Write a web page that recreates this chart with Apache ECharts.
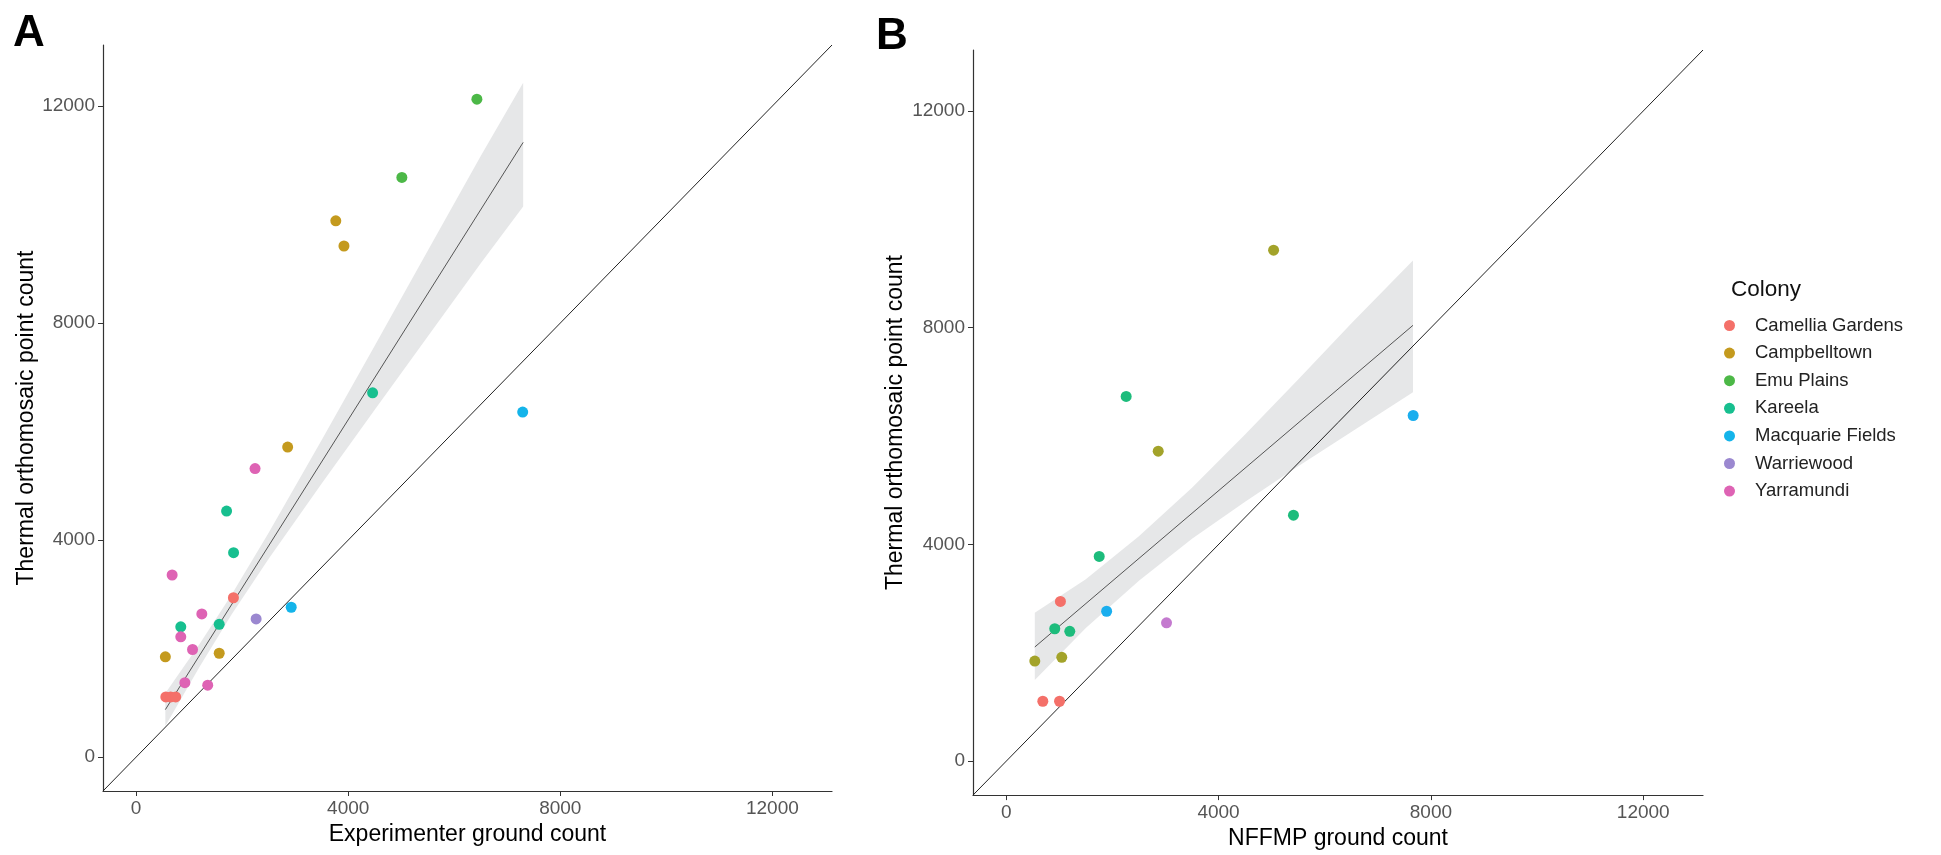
<!DOCTYPE html>
<html lang="en">
<head>
<meta charset="UTF-8">
<title>Thermal orthomosaic point count vs ground counts</title>
<script src="https://cdn.jsdelivr.net/npm/echarts@6.0.0/dist/echarts.min.js"></script>
</head>
<body style="margin: 0; background-color: #ffffff;">
<div id="chart" style="width: 1941px; height: 855px;"></div>

<script>
    // colonies and their colours (panel A uses 7 hues, panel B only has 5 colonies)
    const colonies = ['Camellia Gardens', 'Campbelltown', 'Emu Plains', 'Kareela', 'Macquarie Fields', 'Warriewood', 'Yarramundi'];
    const coloursA = ['#F47069', '#C49A1E', '#4CB847', '#17BF8F', '#14B4EA', '#9B88D0', '#DE63B4'];
    const coloursB = {
        'Camellia Gardens': '#F47069',
        'Campbelltown': '#A3A32A',
        'Kareela': '#1DBC7C',
        'Macquarie Fields': '#1AAEEE',
        'Warriewood': '#C47ACF'
    };

    // panel A: [experimenter ground count, thermal point count]
    const camelliaA = [[1835, 2937], [560, 1108], [652, 1108], [746, 1108]];
    const campbelltownA = [[3766, 9885], [3920, 9420], [2858, 5714], [551, 1848], [1567, 1914]];
    const emuPlainsA = [[6427, 12127], [5012, 10685]];
    const kareelaA = [[4460, 6714], [1706, 4535], [1838, 3768], [1567, 2447], [842, 2401]];
    const macquarieA = [[7291, 6360], [2925, 2762]];
    const warriewoodA = [[2263, 2546]];
    const yarramundiA = [[2243, 5318], [679, 3356], [1239, 2639], [842, 2216], [1064, 1983], [919, 1372], [1350, 1326]];

    // panel B: [NFFMP ground count, thermal point count]
    const camelliaB = [[1022, 2948], [690, 1107], [1005, 1107]];
    const campbelltownB = [[5037, 9431], [2864, 5721], [1047, 1918], [539, 1849]];
    const kareelaB = [[2260, 6731], [5411, 4540], [1752, 3780], [915, 2445], [1198, 2398]];
    const macquarieB = [[7666, 6380], [1892, 2768]];
    const warriewoodB = [[3020, 2555]];

    // fitted lines and their confidence bands
    const fitA = [[551, 875], [7300, 11330]];
    const bandXA = [551, 1200, 1800, 2500, 3500, 4500, 5500, 6500, 7300];
    const bandHiA = [1175, 2090, 2990, 4134, 5843, 7582, 9331, 11080, 12430];
    const bandLoA = [575, 1670, 2630, 3654, 5043, 6402, 7751, 9100, 10150];

    const fitB = [[539, 2108], [7662, 8044]];
    const bandXB = [539, 1500, 2500, 3500, 4500, 5500, 6500, 7662];
    const bandHiB = [2740, 3359, 4152, 5046, 6029, 7043, 8076, 9240];
    const bandLoB = [1500, 2459, 3332, 4106, 4789, 5443, 6076, 6810];

    // 1:1 reference line spans the whole panel
    const identity = [[-625, -625], [13125, 13125]];

    const ticks = [0, 4000, 8000, 12000];
    const AXIS_MIN = -625;
    const AXIS_MAX = 13125;
    const FONT = 'Liberation Sans, Arial, sans-serif';

    const pointsA = [camelliaA, campbelltownA, emuPlainsA, kareelaA, macquarieA, warriewoodA, yarramundiA];
    const pointsB = {
        'Camellia Gardens': camelliaB,
        'Campbelltown': campbelltownB,
        'Kareela': kareelaB,
        'Macquarie Fields': macquarieB,
        'Warriewood': warriewoodB
    };

    const chart = echarts.init(document.getElementById('chart'));

    function makeAxis(gridIndex, name, nameGap) {
        return {
            gridIndex: gridIndex,
            type: 'value',
            min: AXIS_MIN,
            max: AXIS_MAX,
            name: name,
            nameLocation: 'middle',
            nameGap: nameGap,
            nameTextStyle: { fontSize: 23, color: '#000000', fontFamily: FONT },
            axisLine: { show: true, onZero: false, lineStyle: { color: '#333333', width: 1.2 } },
            axisTick: { show: true, customValues: ticks, length: 5, lineStyle: { color: '#333333', width: 1 } },
            axisLabel: {
                customValues: ticks,
                margin: 8,
                fontSize: 19,
                color: '#555555',
                fontFamily: FONT,
                formatter: function (v) { return String(v); }
            },
            splitLine: { show: false }
        };
    }

    function bandSeries(idx, xs, lo, hi) {
        return {
            type: 'custom',
            xAxisIndex: idx,
            yAxisIndex: idx,
            silent: true,
            z: 1,
            data: [[xs[0], lo[0]]],
            renderItem: function (params, api) {
                const pts = [];
                for (let i = 0; i < xs.length; i++) pts.push(api.coord([xs[i], hi[i]]));
                for (let i = xs.length - 1; i >= 0; i--) pts.push(api.coord([xs[i], lo[i]]));
                return { type: 'polygon', shape: { points: pts }, style: { fill: '#E6E7E8' } };
            }
        };
    }

    function lineSeries(idx, data, colour, z) {
        return {
            type: 'line',
            xAxisIndex: idx,
            yAxisIndex: idx,
            data: data,
            symbol: 'none',
            silent: true,
            z: z,
            lineStyle: { color: colour, width: 1 }
        };
    }

    const series = [
        bandSeries(0, bandXA, bandLoA, bandHiA),
        lineSeries(0, fitA, '#555555', 2),
        lineSeries(0, identity, '#222222', 2),
        bandSeries(1, bandXB, bandLoB, bandHiB),
        lineSeries(1, fitB, '#555555', 2),
        lineSeries(1, identity, '#222222', 2)
    ];

    // panel A points (these come first so the legend takes its colours)
    colonies.forEach(function (name, i) {
        series.push({
            name: name,
            type: 'scatter',
            xAxisIndex: 0,
            yAxisIndex: 0,
            data: pointsA[i],
            symbolSize: 11,
            z: 3,
            itemStyle: { color: coloursA[i], opacity: 1 }
        });
    });

    // panel B points
    Object.keys(pointsB).forEach(function (name) {
        series.push({
            name: name,
            type: 'scatter',
            xAxisIndex: 1,
            yAxisIndex: 1,
            data: pointsB[name],
            symbolSize: 11,
            z: 3,
            itemStyle: { color: coloursB[name], opacity: 1 }
        });
    });

    const option = {
        animation: false,
        backgroundColor: '#ffffff',
        textStyle: { fontFamily: FONT },
        grid: [
            { left: 103, top: 45, width: 729, height: 746 },
            { left: 973, top: 50, width: 730, height: 746 }
        ],
        xAxis: [
            makeAxis(0, 'Experimenter ground count', 31),
            makeAxis(1, 'NFFMP ground count', 31)
        ],
        yAxis: [
            makeAxis(0, 'Thermal orthomosaic point count', 65),
            makeAxis(1, 'Thermal orthomosaic point count', 66)
        ],
        legend: {
            data: colonies,
            orient: 'vertical',
            left: 1724,
            top: 316,
            padding: 0,
            itemWidth: 41,
            itemHeight: 11,
            itemGap: 8.6,
            icon: 'circle',
            selectedMode: false,
            textStyle: { fontSize: 18.5, color: '#222222', fontFamily: FONT }
        },
        graphic: [
            {
                type: 'text', left: 13, top: 12,
                style: { text: 'A', fontSize: 44, fontWeight: 'bold', fill: '#000000', fontFamily: FONT }
            },
            {
                type: 'text', left: 876, top: 15,
                style: { text: 'B', fontSize: 44, fontWeight: 'bold', fill: '#000000', fontFamily: FONT }
            },
            {
                type: 'text', left: 1731, top: 278,
                style: { text: 'Colony', fontSize: 22.5, fill: '#111111', fontFamily: FONT }
            }
        ],
        series: series
    };

    chart.setOption(option);
</script>
</body>
</html>
